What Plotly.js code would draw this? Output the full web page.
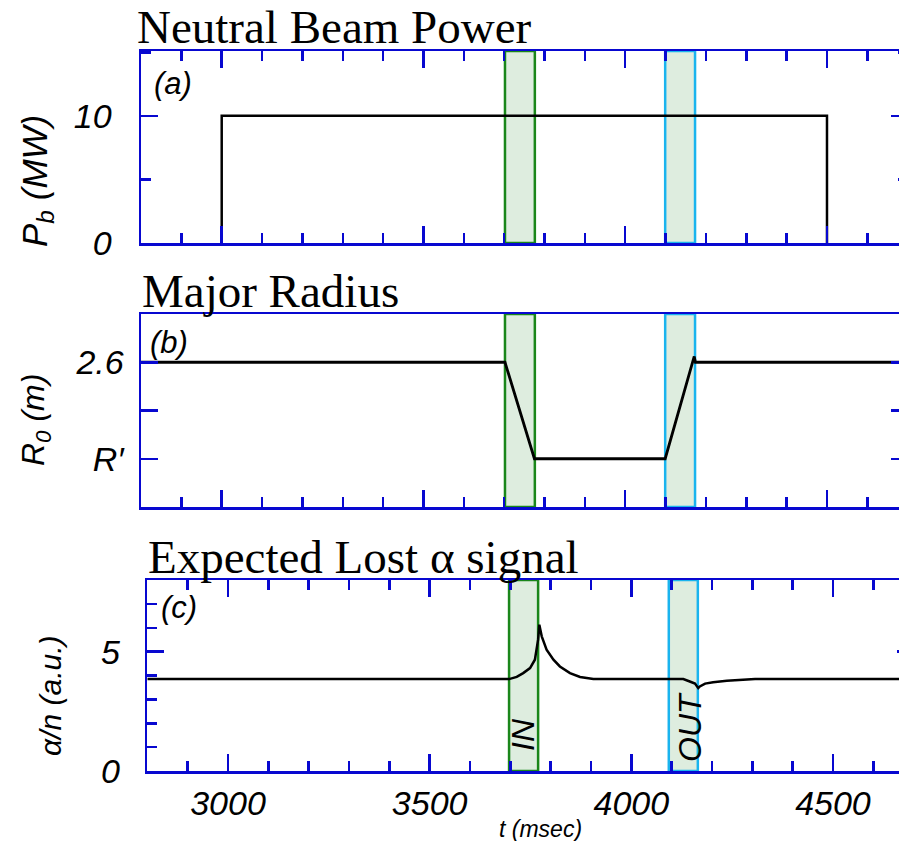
<!DOCTYPE html>
<html>
<head>
<meta charset="utf-8">
<script src="https://cdn.plot.ly/plotly-3.0.1.min.js"></script>
<style>
html,body{margin:0;padding:0;overflow:hidden;background:#fff;width:899px;height:841px;}
#chart{width:920px;height:841px;}
</style>
</head>
<body>
<div id="chart"></div>
<script>
// ---- data ----
const tBeam = [3000, 3000, 4500, 4500];
const pBeam = [0, 10, 10, 0];

const tRadius = [2800, 3702, 3775, 4099, 4171, 4174, 4700];
const rRadius = [2.6, 2.6, 2.4, 2.4, 2.612, 2.6, 2.6];
const radiusTickVals = [2.4, 2.5, 2.6];
const radiusTickText = ["R\u2032", " ", "2.6"];

const tSignal = [2800, 3697, 3716, 3732, 3749, 3761, 3769, 3772, 3778, 3790, 3807, 3823, 3848, 3873, 3906,
                 4129, 4145, 4158, 4166, 4170, 4183, 4203, 4237, 4278, 4307, 4700];
const sSignal = [3.85, 3.85, 3.94, 4.10, 4.31, 4.66, 5.50, 6.13, 5.64, 5.08, 4.66, 4.38, 4.10, 3.94, 3.85,
                 3.85, 3.75, 3.66, 3.47, 3.54, 3.66, 3.72, 3.78, 3.82, 3.85, 3.85];

const inWindow = [3702, 3776];
const outWindow = [4099, 4173];
const inWindowSignal = [3697, 3769];
const outWindowSignal = [4093, 4165];

// ---- layout helpers ----
const W = 920, H = 841;
const fx = p => p / W;
const fy = p => 1 - p / H;
const BLUE = "#0808d0";
const GREEN = "#1a861a";
const CYAN = "#1ab4ee";
const FILL = "#deeddf";
const sans = "Liberation Sans, Arial, sans-serif";
const serif = "Liberation Serif, Times New Roman, serif";
const TICKFONT = {family: sans, size: 34, color: "#000", style: "italic"};

function xAxis(dom, showLabels, mirror) {
  return {
    domain: dom, range: [2800, 4700], showgrid: false, zeroline: false,
    showline: true, linecolor: BLUE, linewidth: 2.5, mirror: mirror,
    ticks: "inside", tick0: 3000, dtick: 500, ticklen: 17, tickwidth: 2.5, tickcolor: BLUE,
    minor: {dtick: 100, tick0: 2800, ticks: "inside", ticklen: 10, tickwidth: 2.5, tickcolor: BLUE},
    showticklabels: showLabels, ticklabelstandoff: 1,
    tickfont: TICKFONT
  };
}
function yAxis(dom, extra, anchor) {
  return Object.assign({
    domain: dom, showgrid: false, zeroline: false, anchor: anchor,
    showline: true, linecolor: BLUE, linewidth: 2.5, mirror: "ticks",
    ticks: "inside", ticklen: 17, tickwidth: 2.5, tickcolor: BLUE,
    tickfont: TICKFONT
  }, extra);
}

const domAB = [fx(141), fx(907.7)];
const domC = [fx(147.3), fx(913.6)];

const traces = [
  {x: tBeam, y: pBeam, xaxis: "x", yaxis: "y", mode: "lines", line: {color: "#000", width: 2.5}},
  {x: tRadius, y: rRadius, xaxis: "x2", yaxis: "y2", mode: "lines", line: {color: "#000", width: 2.8}},
  {x: tSignal, y: sSignal, xaxis: "x3", yaxis: "y3", mode: "lines", line: {color: "#000", width: 2.5}}
];

function band(win, xr, yr, color) {
  return {type: "rect", xref: xr, yref: yr + " domain", x0: win[0], x1: win[1], y0: 0, y1: 1,
          fillcolor: FILL, line: {color: color, width: 2.5}, layer: "below"};
}

const shapes = [
  band(inWindow, "x", "y", GREEN), band(outWindow, "x", "y", CYAN),
  band(inWindow, "x2", "y2", GREEN), band(outWindow, "x2", "y2", CYAN),
  band(inWindowSignal, "x3", "y3", GREEN), band(outWindowSignal, "x3", "y3", CYAN)
];

function ann(text, x, y, size, family, opts) {
  return Object.assign({text: text, xref: "paper", yref: "paper", x: fx(x), y: fy(y),
    showarrow: false, xanchor: "center", yanchor: "middle",
    font: {family: family, size: size, color: "#000"}}, opts || {});
}
const italic = (size) => ({family: sans, size: size, color: "#000", style: "italic"});

const annotations = [
  ann("Neutral Beam Power", 135, 27, 47, serif, {xanchor: "left"}),
  ann("Major Radius", 140, 291, 47, serif, {xanchor: "left"}),
  ann("Expected Lost \u03b1 signal", 146, 557, 47, serif, {xanchor: "left"}),
  ann("(a)", 152, 84, 31, sans, {xanchor: "left", font: italic(31)}),
  ann("(b)", 148, 343, 31, sans, {xanchor: "left", font: italic(31)}),
  ann("(c)", 159, 607, 31, sans, {xanchor: "left", font: italic(31)}),
  ann("P<sub>b</sub> (MW)", 37, 181, 35, sans, {textangle: -90, font: italic(35)}),
  ann("R<sub>0</sub> (m)", 35, 420, 32, sans, {textangle: -90, font: italic(32)}),
  ann("\u03b1/n (a.u.)", 50, 696, 30, sans, {textangle: -90, font: italic(30)}),
  ann("IN", 523, 735, 32, sans, {textangle: -90, font: italic(32)}),
  ann("OUT", 690, 727, 32, sans, {textangle: -90, font: italic(32)}),
  ann("t (msec)", 540, 829, 23, sans, {font: italic(23)})
];

const layout = {
  width: W, height: H, margin: {l: 0, r: 0, t: 0, b: 0},
  paper_bgcolor: "#fff", plot_bgcolor: "rgba(0,0,0,0)", showlegend: false,
  xaxis: xAxis(domAB, false, "ticks"),
  xaxis2: xAxis(domAB, false, true),
  xaxis3: xAxis(domC, true, "ticks"),
  yaxis: yAxis([fy(243), fy(51)], {range: [0, 15.1], dtick: 10, tick0: 0,
    minor: {dtick: 5, ticks: "inside", ticklen: 10, tickwidth: 2.5, tickcolor: BLUE}, ticklabelstandoff: 20}, "x"),
  yaxis2: yAxis([fy(507), fy(314)], {range: [2.3, 2.7], tickmode: "array",
    tickvals: radiusTickVals, ticktext: radiusTickText, ticklabelstandoff: 8}, "x2"),
  yaxis3: yAxis([fy(771), fy(580)], {range: [0, 8], dtick: 5, tick0: 0,
    minor: {dtick: 1, ticks: "inside", ticklen: 10, tickwidth: 2.5, tickcolor: BLUE}, ticklabelstandoff: 18}, "x3"),
  shapes: shapes,
  annotations: annotations
};
layout.xaxis.anchor = "y";
layout.xaxis2.anchor = "y2";
layout.xaxis3.anchor = "y3";

Plotly.newPlot("chart", traces, layout, {staticPlot: true, displayModeBar: false});
</script>
</body>
</html>
